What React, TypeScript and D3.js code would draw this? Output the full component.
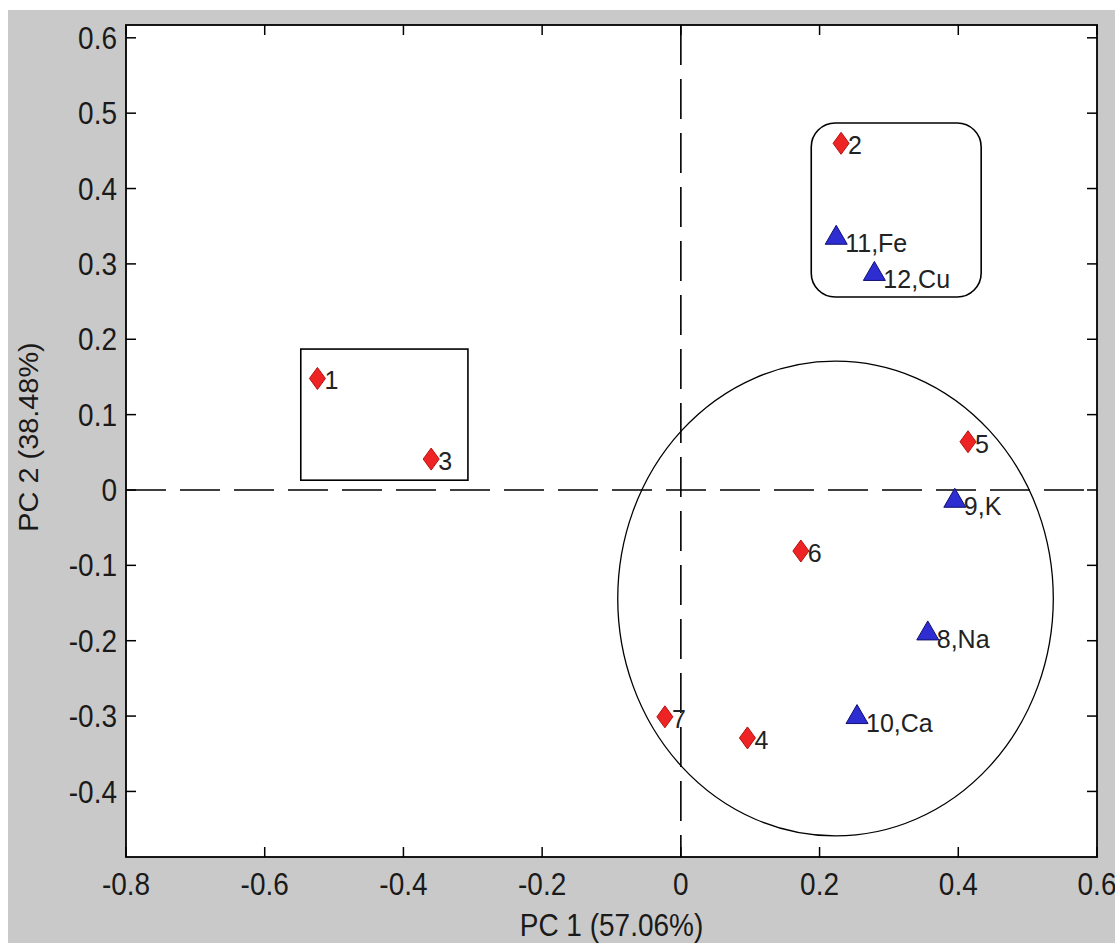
import React from "react";
import * as d3 from "d3";

// ---- data ----
const pointLabels = ["1", "2", "3", "4", "5", "6", "7", "8,Na", "9,K", "10,Ca", "11,Fe", "12,Cu"];
const pc1 = [-0.524, 0.231, -0.36, 0.096, 0.414, 0.173, -0.023, 0.356, 0.395, 0.254, 0.224, 0.279];
const pc2 = [0.148, 0.46, 0.041, -0.329, 0.064, -0.081, -0.301, -0.187, -0.011, -0.298, 0.338, 0.29];
const pointKind = ["d", "d", "d", "d", "d", "d", "d", "t", "t", "t", "t", "t"];

const xTicks = [-0.8, -0.6, -0.4, -0.2, 0, 0.2, 0.4, 0.6];
const yTicks = [-0.4, -0.3, -0.2, -0.1, 0, 0.1, 0.2, 0.3, 0.4, 0.5, 0.6];
const xDomain = [-0.8, 0.6];
const yDomain = [-0.487, 0.617];

// group outlines (data units)
const rectBox = { x0: -0.548, x1: -0.307, y0: 0.013, y1: 0.187 };
const roundBox = { x0: 0.188, x1: 0.433, y0: 0.256, y1: 0.487 };
const circleGroup = { cx: 0.223, cy: -0.144, rx: 0.314, ry: 0.315 };

const xLabel = "PC 1 (57.06%)";
const yLabel = "PC 2 (38.48%)";

const FONT = "'Liberation Sans', Arial, Helvetica, sans-serif";

export default function App() {
  const W = 1115;
  const H = 943;
  const left = 126, right = 1097, top = 25, bottom = 857;
  const x = d3.scaleLinear().domain(xDomain).range([left, right]);
  const y = d3.scaleLinear().domain(yDomain).range([bottom, top]);
  const tickLen = 10;
  const fmt = (v: number) => (Math.abs(v) < 1e-9 ? "0" : String(+v.toFixed(1)));

  const diamond = "M0,-11L8,0L0,11L-8,0Z";
  const triangle = "M0,-10L11,9L-11,9Z";

  return (
    <svg
      width={W}
      height={H}
      style={{ position: "absolute", left: 0, top: 0 }}
      fontFamily={FONT}
    >
      <rect x={0} y={0} width={W} height={H} fill="#ffffff" />
      <rect x={8} y={10} width={W - 8} height={H - 10} fill="#c9c9c9" />
      <rect x={left} y={top} width={right - left} height={bottom - top} fill="#ffffff" />

      {/* zero lines */}
      <line x1={left} x2={right} y1={y(0)} y2={y(0)} stroke="#000" strokeWidth={1.6} strokeDasharray="40 14" />
      <line x1={x(0)} x2={x(0)} y1={top} y2={bottom} stroke="#000" strokeWidth={1.6} strokeDasharray="40 14" />

      {/* group outlines */}
      <rect
        x={x(rectBox.x0)}
        y={y(rectBox.y1)}
        width={x(rectBox.x1) - x(rectBox.x0)}
        height={y(rectBox.y0) - y(rectBox.y1)}
        fill="none"
        stroke="#000"
        strokeWidth={1.6}
      />
      <rect
        x={x(roundBox.x0)}
        y={y(roundBox.y1)}
        width={x(roundBox.x1) - x(roundBox.x0)}
        height={y(roundBox.y0) - y(roundBox.y1)}
        rx={24}
        ry={24}
        fill="none"
        stroke="#000"
        strokeWidth={1.6}
      />
      <ellipse
        cx={x(circleGroup.cx)}
        cy={y(circleGroup.cy)}
        rx={x(circleGroup.cx + circleGroup.rx) - x(circleGroup.cx)}
        ry={y(circleGroup.cy - circleGroup.ry) - y(circleGroup.cy)}
        fill="none"
        stroke="#000"
        strokeWidth={1.3}
      />

      {/* points */}
      {pointLabels.map((lab, i) => {
        const px = x(pc1[i]);
        const py = y(pc2[i]);
        const isD = pointKind[i] === "d";
        return (
          <g key={lab}>
            <path
              d={isD ? diamond : triangle}
              transform={`translate(${px},${py})`}
              fill={isD ? "#ee2424" : "#2d2dd2"}
              stroke={isD ? "#b81010" : "#10106e"}
              strokeWidth={1}
            />
            <text
              x={px + (isD ? 7 : 9)}
              y={py + (isD ? 11 : 17)}
              fontSize={25}
              fill="#222"
            >
              {lab}
            </text>
          </g>
        );
      })}

      {/* frame */}
      <rect x={left} y={top} width={right - left} height={bottom - top} fill="none" stroke="#000" strokeWidth={1.8} />

      {/* ticks */}
      {xTicks.map((t) => (
        <g key={"x" + t}>
          <line x1={x(t)} x2={x(t)} y1={bottom} y2={bottom - tickLen} stroke="#000" strokeWidth={1.5} />
          <line x1={x(t)} x2={x(t)} y1={top} y2={top + tickLen} stroke="#000" strokeWidth={1.5} />
          <g transform={`translate(${x(t)},895) scale(1,1.1)`}>
            <text x={0} y={0} textAnchor="middle" fontSize={28} fill="#1a1a1a">
              {fmt(t)}
            </text>
          </g>
        </g>
      ))}
      {yTicks.map((t) => (
        <g key={"y" + t}>
          <line x1={left} x2={left + tickLen} y1={y(t)} y2={y(t)} stroke="#000" strokeWidth={1.5} />
          <line x1={right} x2={right - tickLen} y1={y(t)} y2={y(t)} stroke="#000" strokeWidth={1.5} />
          <g transform={`translate(117,${y(t)}) scale(1,1.1)`}>
            <text x={0} y={0} dy="0.36em" textAnchor="end" fontSize={28} fill="#1a1a1a">
              {fmt(t)}
            </text>
          </g>
        </g>
      ))}

      {/* axis labels */}
      <g transform={`translate(${(left + right) / 2},936) scale(1,1.1)`}>
        <text x={0} y={0} textAnchor="middle" fontSize={28} fill="#1a1a1a">
          {xLabel}
        </text>
      </g>
      <g transform={`translate(38,${(top + bottom) / 2 - 4}) rotate(-90) scale(1.07,1)`}>
        <text x={0} y={0} textAnchor="middle" fontSize={27} fill="#1a1a1a">
          {yLabel}
        </text>
      </g>
    </svg>
  );
}
